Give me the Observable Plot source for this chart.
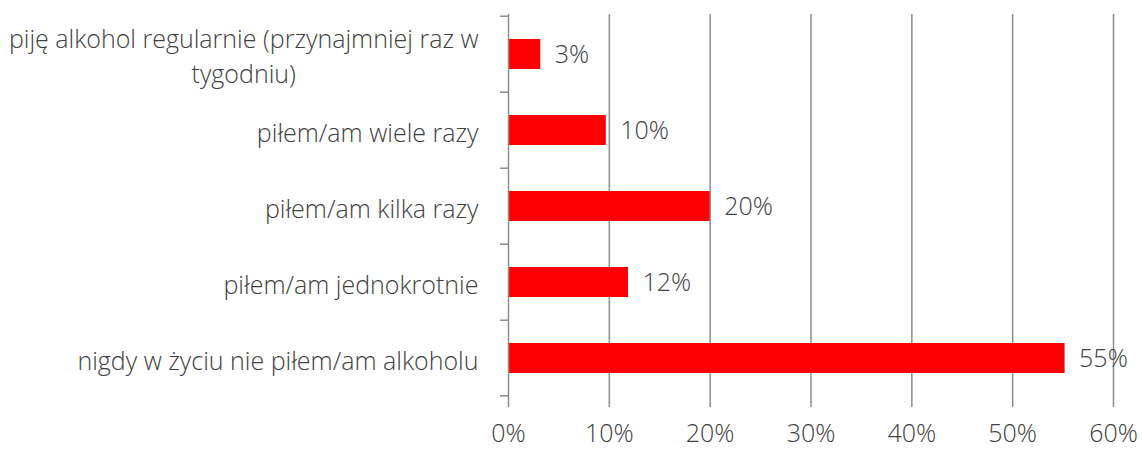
<!DOCTYPE html>
<html>
<head>
<meta charset="utf-8">
<script src="https://cdn.jsdelivr.net/npm/d3@7"></script>
<script src="https://cdn.jsdelivr.net/npm/@observablehq/plot@0.6"></script>
<style>
  body { margin: 0; background: #fff; }
  #chart svg { font-family: "Open Sans", sans-serif; font-weight: 300; }
</style>
</head>
<body>
<div id="chart"></div>
<script>
const categories = [
  "piję alkohol regularnie (przynajmniej raz w\ntygodniu)",
  "piłem/am wiele razy",
  "piłem/am kilka razy",
  "piłem/am jednokrotnie",
  "nigdy w życiu nie piłem/am alkoholu"
];
const values = [3.2, 9.7, 20.0, 11.9, 55.2];
const valueLabels = ["3%", "10%", "20%", "12%", "55%"];
const xTicks = [0, 10, 20, 30, 40, 50, 60];

const data = categories.map((c, i) => ({category: c, value: values[i], label: valueLabels[i]}));

const textColor = "#404040";
const axisColor = "#8c8c8c";
const fs = 25;

const plot = Plot.plot({
  width: 1142,
  height: 450,
  marginLeft: 508,
  marginRight: 29,
  marginTop: 14,
  marginBottom: 52,
  style: {fontSize: fs + "px", color: textColor, background: "#fff", overflow: "visible"},
  x: {domain: [0, 60], ticks: xTicks, tickFormat: d => d + "%", label: null},
  y: {domain: categories, paddingInner: 0.6, paddingOuter: 0.3, label: null},
  marks: [
    Plot.gridX(xTicks.filter(t => t > 0), {stroke: axisColor, strokeOpacity: 1, strokeWidth: 1.5}),
    Plot.barX(data, {x: "value", y: "category", fill: "#ff0000"}),
    Plot.text(data, {x: "value", y: "category", text: "label", textAnchor: "start", dx: 14, fill: textColor, fontSize: fs, fontWeight: 300}),
    Plot.ruleX([0], {stroke: axisColor, strokeWidth: 1.5}),
    Plot.ruleY([0], {stroke: axisColor, strokeWidth: 1.5}),
    Plot.axisX({ticks: xTicks, tickFormat: d => d + "%", tickSize: 9, tickPadding: 17, stroke: axisColor, strokeWidth: 1.5, color: textColor, fontSize: fs, label: null}),
    Plot.axisY({tickSize: 0, tickPadding: 30, fontSize: fs, lineHeight: 1.4, color: textColor, label: null})
  ]
});

document.getElementById("chart").appendChild(plot);

// y-axis tick marks at band boundaries (drawn through the band scale)
const y = plot.scale("y");
const svg = d3.select(plot);
const step = y.step;
const bounds = categories.map(c => y.apply(c) - (step * y.paddingInner) / 2).concat([y.apply(categories[categories.length - 1]) + y.bandwidth + (step * y.paddingInner) / 2]);
const x0 = plot.scale("x").apply(0);
svg.append("g").selectAll("line").data(bounds).join("line")
  .attr("x1", x0 - 8).attr("x2", x0).attr("y1", d => d).attr("y2", d => d)
  .attr("stroke", axisColor).attr("stroke-width", 1.5);

// center multi-line label lines like the original
svg.selectAll("g[aria-label='y-axis tick label'] text").each(function() {
  const tspans = this.querySelectorAll("tspan");
  if (tspans.length > 1) {
    const w = tspans[0].getComputedTextLength();
    this.setAttribute("text-anchor", "middle");
    const t = this.getAttribute("transform") || "";
    this.setAttribute("transform", t + ` translate(${-w / 2},0)`);
  }
});
</script>
</body>
</html>
